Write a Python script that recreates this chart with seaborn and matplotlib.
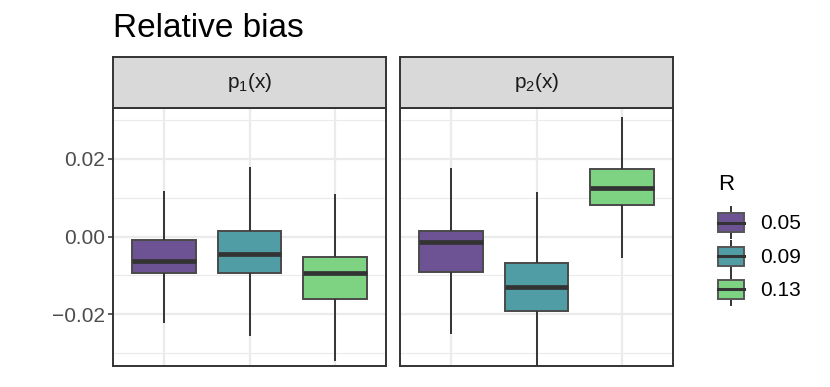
import numpy as np
import pandas as pd
import matplotlib
matplotlib.use("Agg")
import matplotlib.pyplot as plt
import seaborn as sns
from matplotlib.legend_handler import HandlerBase
from matplotlib.patches import Rectangle, Patch
from matplotlib.lines import Line2D

# ---- data (five-number summaries) ----
facets = ["p1", "p2"]
facet_labels = [r"$\mathregular{p_1(x)}$", r"$\mathregular{p_2(x)}$"]
R_levels = ["0.05", "0.09", "0.13"]
# [min, q1, median, q3, max]
p1_R005 = [-0.0221, -0.0094, -0.0062, -0.0009, 0.0118]
p1_R009 = [-0.0256, -0.0094, -0.0046, 0.0015, 0.0179]
p1_R013 = [-0.0320, -0.0160, -0.0094, -0.0052, 0.0109]
p2_R005 = [-0.0251, -0.0091, -0.0015, 0.0015, 0.0176]
p2_R009 = [-0.0360, -0.0192, -0.0130, -0.0067, 0.0115]
p2_R013 = [-0.0054, 0.0080, 0.0124, 0.0174, 0.0307]
y_ticks = [-0.02, 0.00, 0.02]
y_tick_labels = ["\u22120.02", "0.00", "0.02"]

summaries = {
    "p1": [p1_R005, p1_R009, p1_R013],
    "p2": [p2_R005, p2_R009, p2_R013],
}
rows = []
for f in facets:
    for r, vals in zip(R_levels, summaries[f]):
        for v in vals:
            rows.append({"facet": f, "R": r, "value": v})
df = pd.DataFrame(rows)

colors = ["#6D5393", "#519DA5", "#7DD382"]
palette = dict(zip(R_levels, colors))

plt.rcParams["font.family"] = ["Liberation Sans", "DejaVu Sans"]
plt.rcParams["mathtext.fontset"] = "custom"
plt.rcParams["mathtext.rm"] = "Liberation Sans"

W, H = 830, 387
fig = plt.figure(figsize=(W / 100, H / 100), dpi=100)

def fx(px):
    return px / W

def fy(py):
    return 1 - py / H

panel_left = [113, 400]
panel_w = 273
panel_top, panel_bottom = 107.5, 365.5
strip_top = 57

ylim = (-0.0331, 0.0331)
edge = "#333333"

for i, f in enumerate(facets):
    ax = fig.add_axes([fx(panel_left[i]), fy(panel_bottom), fx(panel_w),
                       (panel_bottom - panel_top) / H])
    sub = df[df["facet"] == f]
    sns.boxplot(data=sub, x="R", y="value", hue="R", order=R_levels,
                hue_order=R_levels, palette=palette, saturation=1,
                whis=(0, 100), width=0.75, linecolor=edge, linewidth=1.4,
                showcaps=False,
                boxprops=dict(edgecolor="#4A4A4A"),
                medianprops=dict(linewidth=3.4, color="#333333"),
                legend=False, ax=ax, zorder=3)
    ax.set_xlim(-0.6, 2.6)
    ax.set_ylim(*ylim)
    ax.set_yticks(y_ticks)
    ax.set_yticks([-0.03, -0.01, 0.01, 0.03], minor=True)
    ax.set_facecolor("white")
    ax.grid(True, which="major", color="#EBEBEB", linewidth=1.6)
    ax.grid(True, which="minor", axis="y", color="#EBEBEB", linewidth=0.8)
    ax.set_axisbelow(True)
    for s in ax.spines.values():
        s.set_color(edge)
        s.set_linewidth(1.4)
        s.set_zorder(5)
    ax.set_xlabel("")
    ax.set_ylabel("")
    ax.tick_params(axis="x", bottom=False, labelbottom=False)
    ax.tick_params(axis="y", which="minor", left=False)
    if i == 0:
        ax.set_yticklabels(y_tick_labels)
        ax.tick_params(axis="y", which="major", length=3.5, width=1.1,
                       color=edge, labelsize=15, labelcolor="#4D4D4D", pad=2.5)
    else:
        ax.tick_params(axis="y", which="major", left=False, labelleft=False)

    # strip
    sax = fig.add_axes([fx(panel_left[i]), fy(panel_top), fx(panel_w),
                        (panel_top - strip_top) / H])
    sax.set_facecolor("#D9D9D9")
    sax.set_xticks([])
    sax.set_yticks([])
    for s in sax.spines.values():
        s.set_color(edge)
        s.set_linewidth(1.4)
    sax.text(0.5, 0.5, facet_labels[i], transform=sax.transAxes,
             ha="center", va="center", fontsize=15, color="#1A1A1A")

fig.text(fx(113), fy(36.7), "Relative bias", fontsize=24, va="baseline",
         ha="left", color="black")


class BoxKeyHandler(HandlerBase):
    def create_artists(self, legend, orig_handle, xdescent, ydescent,
                       width, height, fontsize, trans):
        x0, y0 = -xdescent, -ydescent
        bh = height * 0.6
        by = y0 + (height - bh) / 2
        cx = x0 + width / 2
        arts = [
            Line2D([cx, cx], [y0, by], color=edge, lw=1.4, transform=trans),
            Line2D([cx, cx], [by + bh, y0 + height], color=edge, lw=1.4,
                   transform=trans),
            Rectangle((x0, by), width, bh, facecolor=orig_handle.get_facecolor(),
                      edgecolor="#555555", lw=1.4, transform=trans),
            Line2D([x0, x0 + width], [by + bh / 2, by + bh / 2], color=edge,
                   lw=2.2, transform=trans),
        ]
        return arts


handles = [Patch(facecolor=c) for c in colors]
leg = fig.legend(handles, R_levels, title="R", loc="upper left",
                 bbox_to_anchor=(fx(708), fy(164)), frameon=False,
                 handler_map={Patch: BoxKeyHandler()}, fontsize=15,
                 title_fontsize=16, handlelength=1.25, handleheight=1.93,
                 labelspacing=0.1, handletextpad=0.75, borderpad=0)
leg._legend_box.align = "left"
leg._legend_box.sep = 8.5

fig.savefig("out.png", dpi=100, facecolor="white")
